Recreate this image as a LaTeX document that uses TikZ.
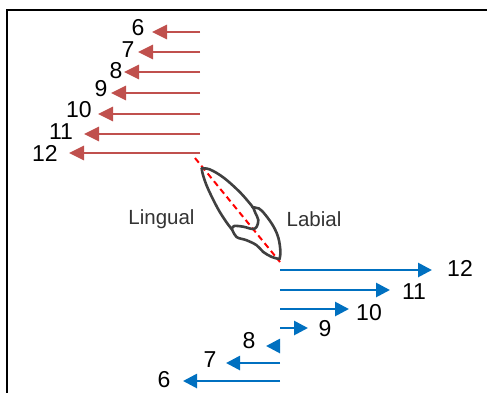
\documentclass[tikz,border=0pt]{standalone}
\usepackage{fontspec}
\setmainfont{Liberation Sans}
\usetikzlibrary{arrows.meta}
\definecolor{lingred}{HTML}{C0504D}
\definecolor{labblue}{HTML}{0070C0}
\definecolor{toothgray}{HTML}{404040}
\begin{document}
\begin{tikzpicture}[x=1pt,y=-1pt,
  redarrow/.style={draw=lingred,line width=2.7pt,-{Triangle[length=15pt,width=14pt]}},
  bluearrow/.style={draw=labblue,line width=2.7pt,-{Triangle[length=14pt,width=14pt]}},
  num/.style={font=\fontsize{23}{23}\selectfont,inner sep=0pt,text=black},
  side/.style={font=\fontsize{20.5}{20.5}\selectfont,inner sep=0pt,text=black!80},
  outline/.style={draw=toothgray,line width=2.6pt,line cap=round,line join=round},
  axis/.style={draw=red,line width=2pt,dash pattern=on 6pt off 4pt}]
\useasboundingbox (0,0) rectangle (487,392);
\clip (0,0) rectangle (487,392);
% frame
\draw[line width=2pt] (7,10) rectangle (500,400);

% lingual arrows (to the left)
\foreach \n/\y/\tx/\lx/\ly in {6/32/152/138/28, 7/52/138/128/50, 8/72/124/116/71,
    9/93/111/101/89, 10/114/98/79/110, 11/134/84/61/132, 12/153/69/45/153}{
  \coordinate (ls\n) at (200,\y);
  \coordinate (le\n) at (\tx,\y);
  \draw[redarrow] (ls\n) -- (le\n);
  \node[num] (ln\n) at (\lx,\ly) {\n};
}

% labial arrows
\foreach \n/\y/\tx/\lx/\ly in {12/270/432/460/268, 11/290/390/414/292, 10/309/349/369/313,
    9/328/308/325/329, 8/346/266/249/341, 7/363/226/210/360, 6/381/183/164/379.5}{
  \coordinate (bs\n) at (280,\y);
  \coordinate (be\n) at (\tx,\y);
  \draw[bluearrow] (bs\n) -- (be\n);
  \node[num] (bn\n) at (\lx,\ly) {\n};
}

% tooth axis
\coordinate (axA) at (195,158);
\coordinate (axB) at (280,262);
\draw[axis] (axA) -- (axB);

% tooth outline
\draw[outline] plot[smooth,tension=0.6] coordinates {(201.7,168.3) (210,169.5) (223.8,177.8) (240.5,192.8) (253.3,207.7)};
\draw[outline] plot[smooth,tension=0.6] coordinates {(252.5,207.5) (259,208.5) (265.5,215) (273.5,226.5) (278.5,238.3) (280.4,251.7) (279.5,259)};
\draw[outline] plot[smooth,tension=0.6] coordinates {(279.5,259) (271.7,256.9) (263.3,252) (256.7,245.3) (246.7,240.3) (236.5,237) (232.3,230) (226.3,222) (217.8,208.5) (207.8,188.3) (203,175) (201.7,168.3)};
\draw[outline] plot[smooth,tension=0.6] coordinates {(253.3,207.7) (255.5,213.3) (258.3,220) (256.7,226.7) (252.7,229) (243.3,226.7) (234,226) (232,229)};

\node[side] (lingual) at (161.5,219) {Lingual};
\node[side] (labial) at (314,219) {Labial};
\end{tikzpicture}
\end{document}
